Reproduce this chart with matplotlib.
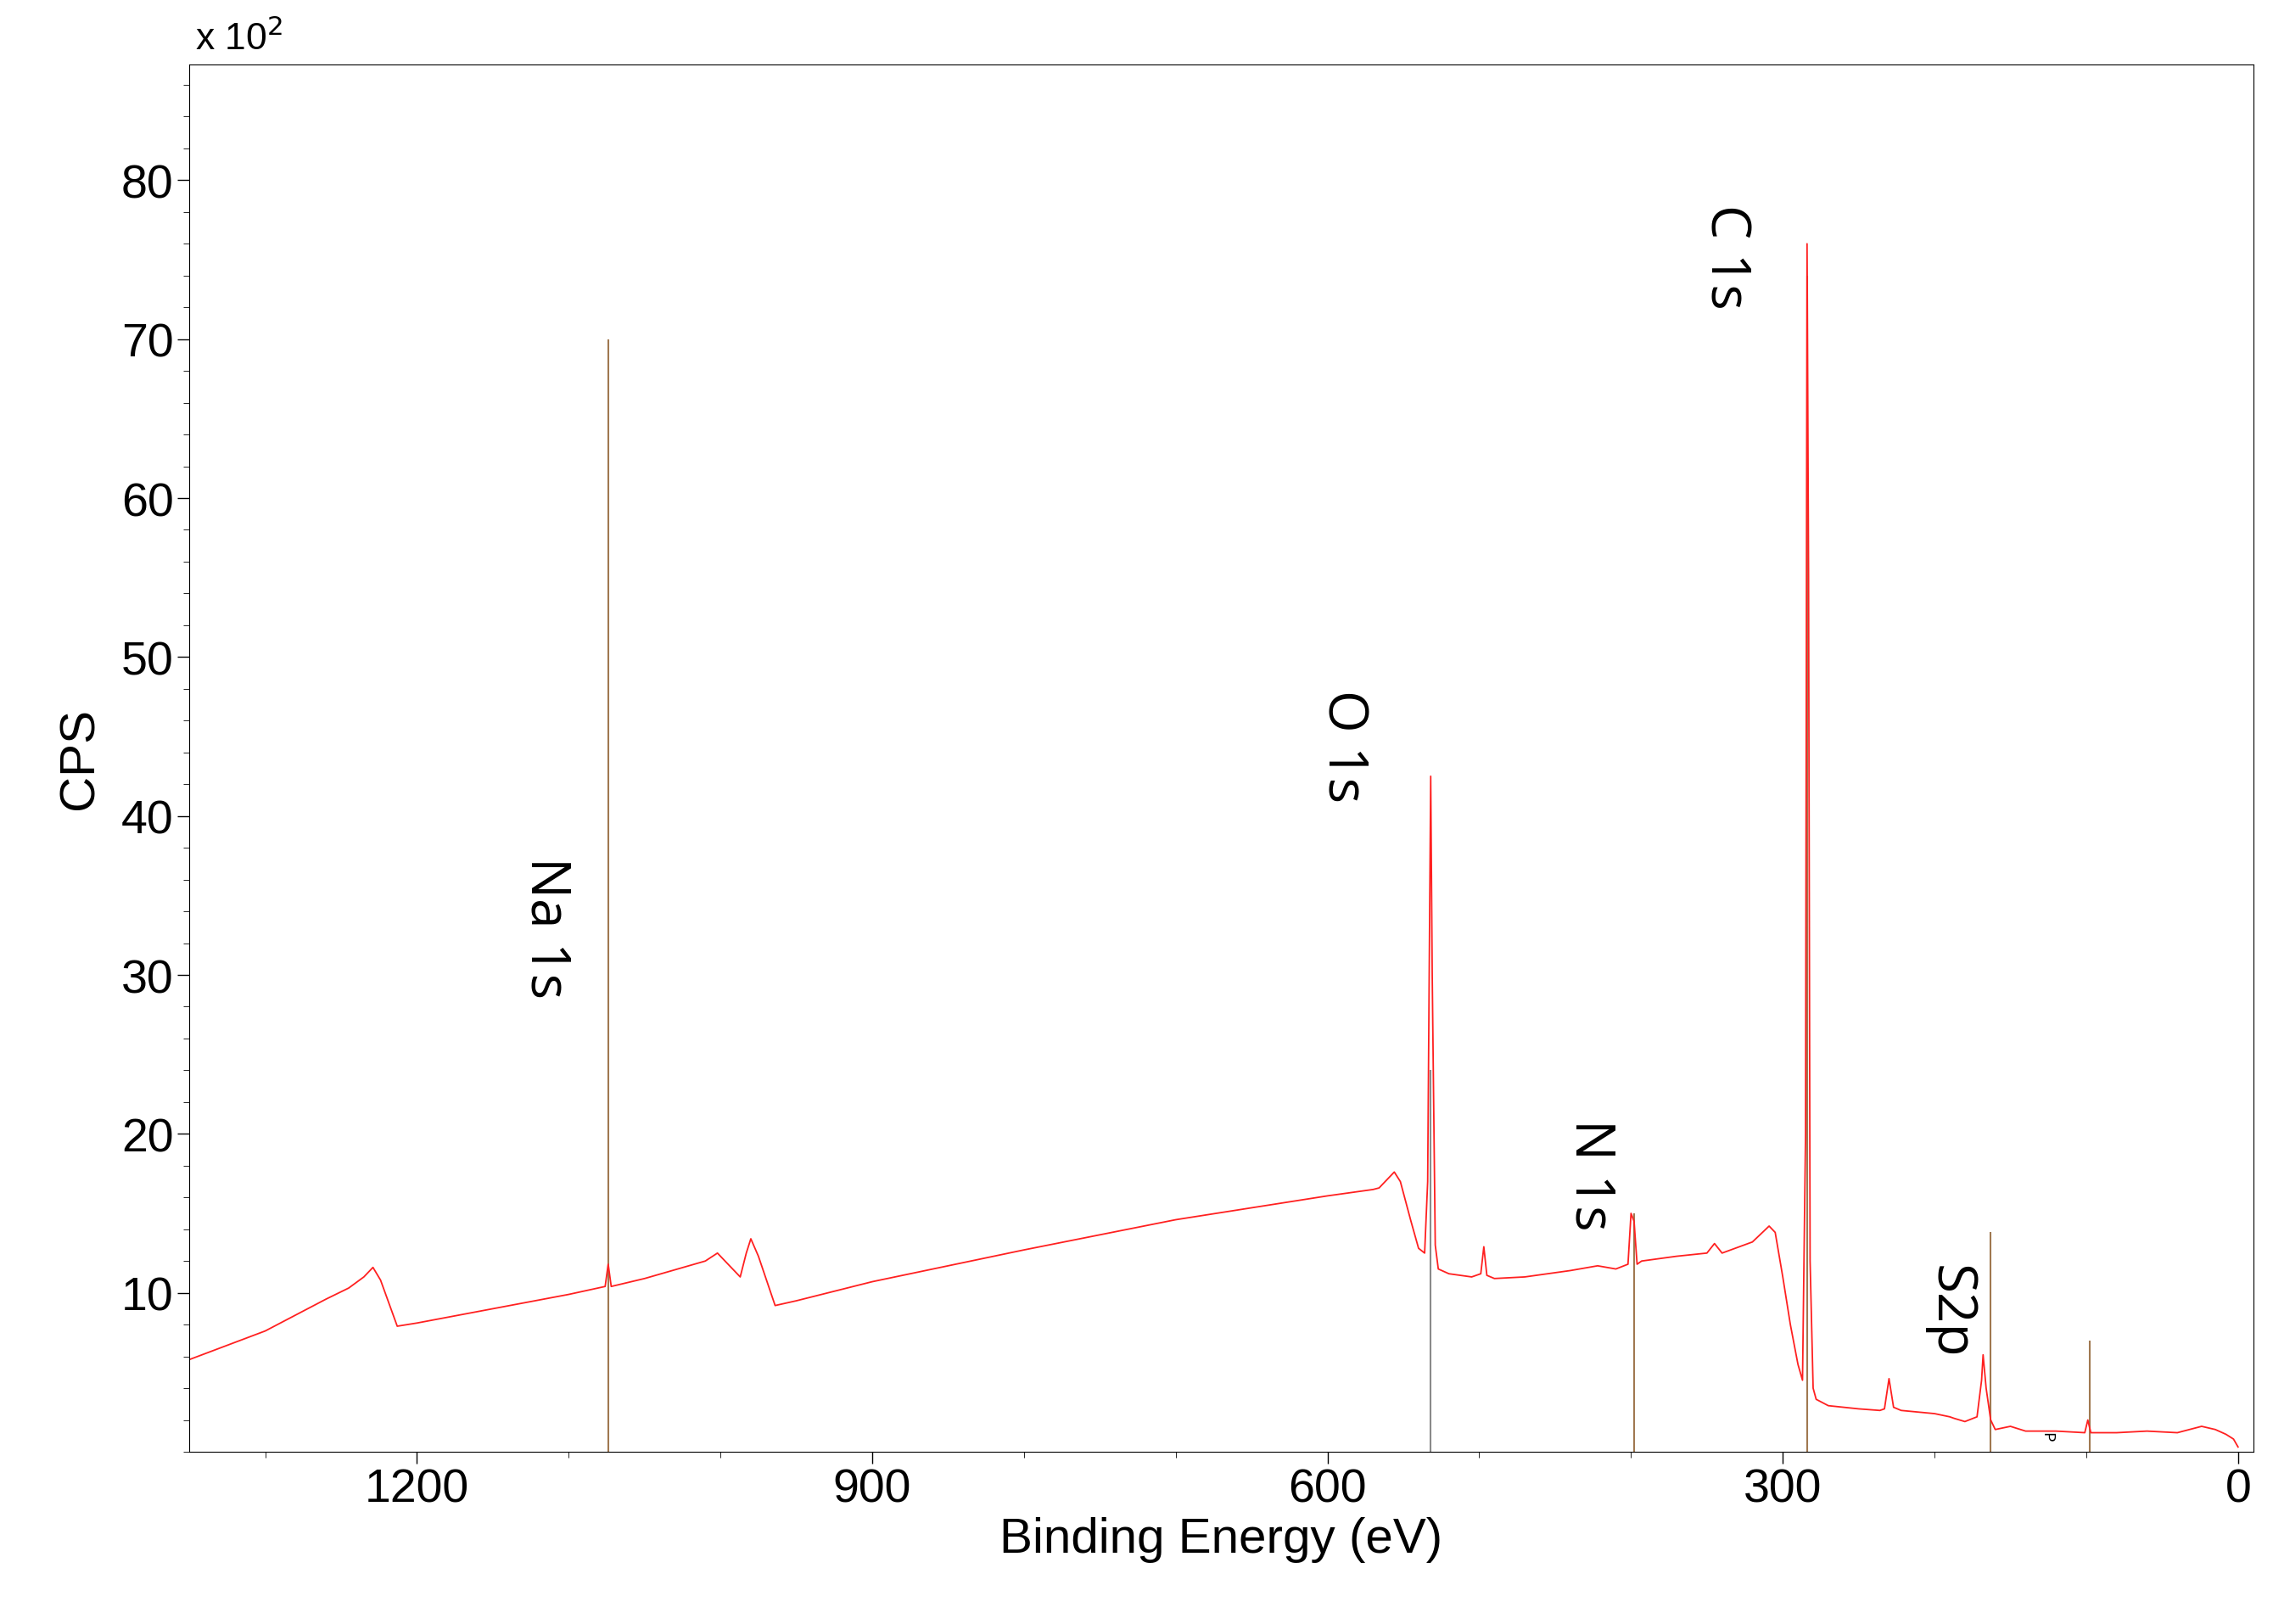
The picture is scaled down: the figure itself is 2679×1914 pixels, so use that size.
import matplotlib
matplotlib.use("Agg")
import matplotlib.pyplot as plt
from matplotlib.ticker import MultipleLocator

# Spectrum (binding energy eV, CPS / 100)
be = [1350,1300,1260,1245,1235,1229,1224,1213,1200,1150,1100,1076,1074,1072,1050,1010,1002,995,987,983,980,975,964,950,900,800,700,600,570,566,560,556,552,545,540,536,534,533,532,531,529,527,520,505,499,497,495,490,470,440,422,410,402,400,398,396,393,370,350,345,340,320,309,305,300,295,290,287,285,284,283,282,280,278,270,250,236,233,230,227,222,200,190,187,180,172,169,168,166,163,160,150,140,120,101,99,97,80,60,40,24,15,8,3,0]
cps = [5.8,7.6,9.6,10.3,11.0,11.6,10.8,7.9,8.1,9.0,9.9,10.4,11.8,10.4,10.9,12.0,12.5,11.8,11.0,12.5,13.4,12.3,9.2,9.5,10.7,12.7,14.6,16.1,16.5,16.6,17.2,17.6,17.0,14.5,12.8,12.5,17.0,30.0,42.5,30.0,13.0,11.5,11.2,11.0,11.2,12.9,11.1,10.9,11.0,11.4,11.7,11.5,11.8,15.0,14.5,11.8,12.0,12.3,12.5,13.1,12.5,13.2,14.2,13.8,11.0,8.0,5.5,4.5,20.0,76.0,55.0,12.0,4.0,3.3,2.9,2.7,2.6,2.7,4.6,2.8,2.6,2.4,2.2,2.1,1.9,2.2,4.5,6.1,4.0,2.0,1.4,1.6,1.3,1.3,1.2,2.0,1.2,1.2,1.3,1.2,1.6,1.4,1.1,0.8,0.3]

# Reference marker lines
marker_be = [1074,532,398,284,163,98]
marker_h = [70,24,15,74,13.8,7]
marker_col = ["#a07850","#8a8a8a","#a07850","#a07850","#a07850","#a07850"]

labels = ["Na 1s","O 1s","N 1s","C 1s","S2p","P"]
label_be = [1115,590,427,338,190,126]
label_y = [37.5,48,21,78.5,11.8,1.3]
label_fs = [46,46,46,46,46,14]

plt.rcParams['font.family'] = ['Liberation Sans', 'DejaVu Sans']
fig = plt.figure(figsize=(26.79,19.15), dpi=100)
ax = fig.add_axes([0.0833,0.106,0.908,0.854])
for b,h,c in zip(marker_be,marker_h,marker_col):
    ax.vlines(b,0,h,color=c,lw=1.5)
ax.plot(be,cps,color="#ff2020",lw=1.3)
for t,b,y,fs in zip(labels,label_be,label_y,label_fs):
    ax.text(b,y,t,rotation=-90,fontsize=fs,ha="center",va="top",family="Open Sans")
ax.set_xlim(1350,-10)
ax.set_ylim(0,87.3)
ax.xaxis.set_major_locator(MultipleLocator(300))
ax.xaxis.set_minor_locator(MultipleLocator(100))
ax.set_yticks([10,20,30,40,50,60,70,80])
ax.yaxis.set_minor_locator(MultipleLocator(2))
ax.tick_params(labelsize=40,length=10,width=1)
ax.tick_params(which="minor",length=5)
ax.set_xlabel("Binding Energy (eV)",fontsize=42)
ax.set_ylabel("CPS",fontsize=42,labelpad=15)
ax.text(0.003,1.005,"x 10$^2$",transform=ax.transAxes,fontsize=32,va="bottom")
fig.savefig("out.png",dpi=100)
